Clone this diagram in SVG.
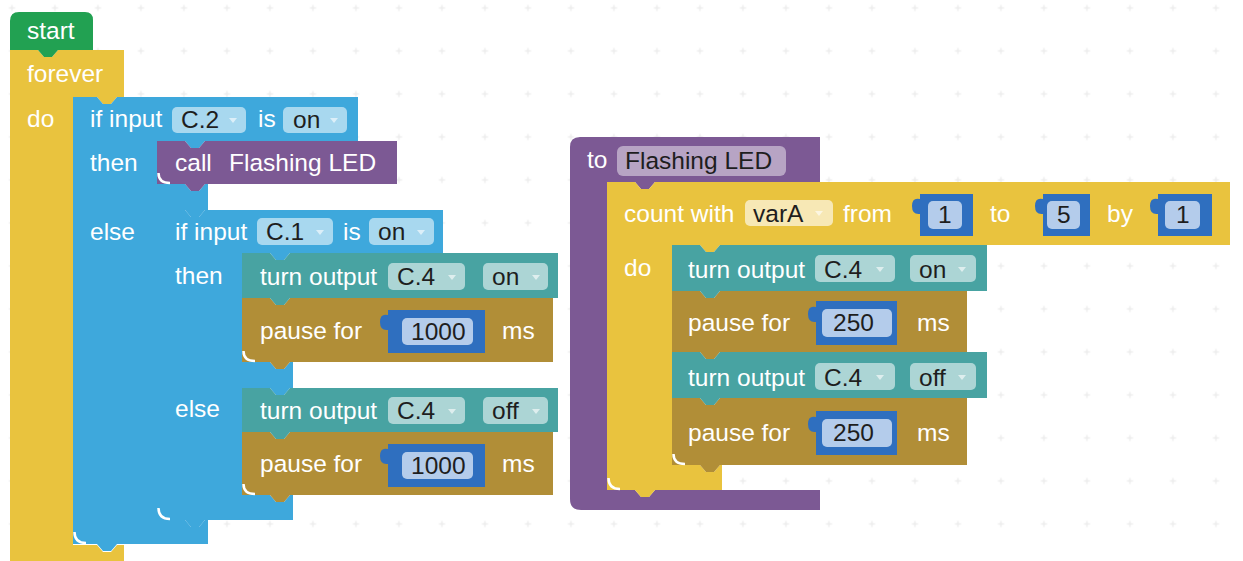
<svg xmlns="http://www.w3.org/2000/svg" width="1243" height="561" viewBox="0 0 1243 561">
<style>
.t{font-family:"Liberation Sans",Arial,sans-serif;font-size:24.5px;fill:#ffffff}
.d{font-family:"Liberation Sans",Arial,sans-serif;font-size:24.5px;fill:#1e1e1e}
.fb{fill:#ffffff;fill-opacity:0.55}
.vf{fill:#b4cceb}
.ar{fill:#ffffff;fill-opacity:0.6}
.hl{fill:none;stroke:#ffffff;stroke-width:2.5}
.green{fill:#22a152}
.yellow{fill:#e9c33e}
.blue{fill:#3ea8dc}
.purple{fill:#7c5994}
.teal{fill:#48a3a2}
.brown{fill:#b18e37}
.val{fill:#2f6fbf}
</style>
<defs>
<pattern id="grid" x="-9.5" y="-13.5" width="43" height="43" patternUnits="userSpaceOnUse">
<rect x="18.5" y="20.8" width="6" height="1.3" fill="#ebebeb"/>
<rect x="20.8" y="18.5" width="1.3" height="6" fill="#ebebeb"/>
</pattern>
</defs>
<rect width="1243" height="561" fill="#ffffff"/>
<rect width="1243" height="561" fill="url(#grid)"/>

<g id="connectors"></g>

<g id="forever">
<path class="yellow" d="M10,50 H38 l6,7 h8 l6,-7 H124 V97 H117 l-6,7 h-8 l-6,-7 H73 V545 H97 l6,7 h8 l6,-7 H124 V561 H10 Z"/>
<text class="t" x="27" y="82">forever</text>
<text class="t" x="27" y="127">do</text>
</g>

<g id="start">
<path class="green" d="M10,21 Q10,12 19,12 H85 Q93,12 93,20 V50 H58 l-6,7 h-8 l-6,-7 H10 Z"/>
<text class="t" x="27" y="39">start</text>
</g>

<g id="if_c2">
<path class="blue" d="M73,97 H97 l6,7 h8 l6,-7 H358 V141 H205 l-6,7 h-8 l-6,-7 H157 V184 H185 l6,7 h8 l6,-7 H208 V210 H205 l-6,7 h-8 l-6,-7 H157 V520 H185 l6,7 h8 l6,-7 H208 V544 H117 l-6,7 h-8 l-6,-7 H73 Z"/>
<text class="t" x="90" y="127">if input</text>
<rect class="fb" x="172" y="107" width="74" height="26" rx="5"/>
<text class="d" x="181" y="128">C.2</text>
<path class="ar" d="M229,118 h8 l-4,5 Z"/>
<text class="t" x="258" y="127">is</text>
<rect class="fb" x="283" y="107" width="64" height="26" rx="5"/>
<text class="d" x="293" y="128">on</text>
<path class="ar" d="M330,118 h8 l-4,5 Z"/>
<text class="t" x="90" y="171">then</text>
<text class="t" x="90" y="240">else</text>
<path class="hl" d="M74.5,532 Q74.5,543 86,543"/>
</g>

<g id="call_flashing">
<path class="purple" d="M157,141 H185 l6,7 h8 l6,-7 H397 V184 H205 l-6,7 h-8 l-6,-7 H157 Z"/>
<text class="t" x="175" y="171">call</text>
<text class="t" x="229" y="171">Flashing LED</text>
<path class="hl" d="M158.5,173 Q158.5,183 170,183"/>
</g>

<g id="if_c1">
<path class="blue" d="M157,210 H185 l6,7 h8 l6,-7 H443 V253 H290 l-6,7 h-8 l-6,-7 H242 V362 H270 l6,7 h8 l6,-7 H293 V388 H290 l-6,7 h-8 l-6,-7 H242 V495 H270 l6,7 h8 l6,-7 H293 V520 H205 l-6,7 h-8 l-6,-7 H157 Z"/>
<text class="t" x="175" y="240">if input</text>
<rect class="fb" x="257" y="218" width="76" height="27" rx="5"/>
<text class="d" x="266" y="240">C.1</text>
<path class="ar" d="M316,230 h8 l-4,5 Z"/>
<text class="t" x="343" y="240">is</text>
<rect class="fb" x="369" y="218" width="65" height="27" rx="5"/>
<text class="d" x="378" y="240">on</text>
<path class="ar" d="M417,230 h8 l-4,5 Z"/>
<text class="t" x="175" y="284">then</text>
<text class="t" x="175" y="417">else</text>
<path class="hl" d="M158.5,508 Q158.5,519 170,519"/>
</g>

<g id="pause_1000_a">
<path class="brown" d="M242,298 H270 l6,7 h8 l6,-7 H553 V362 H290 l-6,7 h-8 l-6,-7 H242 Z"/>
<text class="t" x="260" y="339">pause for</text>
<path class="val" d="M388,310 H485 V353 H388 V330 Q380,331 380,322 Q380,313 388,315 Z"/>
<rect class="vf" x="402" y="318" width="71" height="27" rx="5"/>
<text class="d" x="411" y="340">1000</text>
<text class="t" x="502" y="339">ms</text>
<path class="hl" d="M243.5,351 Q243.5,361 255,361"/>
</g>

<g id="turn_on_a">
<path class="teal" d="M242,253 H270 l6,7 h8 l6,-7 H558 V298 H290 l-6,7 h-8 l-6,-7 H242 Z"/>
<text class="t" x="260" y="285">turn output</text>
<rect class="fb" x="388" y="263" width="77" height="27" rx="5"/>
<text class="d" x="397" y="285">C.4</text>
<path class="ar" d="M448,275 h8 l-4,5 Z"/>
<rect class="fb" x="483" y="263" width="65" height="27" rx="5"/>
<text class="d" x="492" y="285">on</text>
<path class="ar" d="M532,275 h8 l-4,5 Z"/>
</g>

<g id="pause_1000_b">
<path class="brown" d="M242,432 H270 l6,7 h8 l6,-7 H553 V495 H290 l-6,7 h-8 l-6,-7 H242 Z"/>
<text class="t" x="260" y="472">pause for</text>
<path class="val" d="M388,444 H485 V487 H388 V464 Q380,465 380,456 Q380,447 388,449 Z"/>
<rect class="vf" x="402" y="452" width="71" height="27" rx="5"/>
<text class="d" x="411" y="474">1000</text>
<text class="t" x="502" y="472">ms</text>
<path class="hl" d="M243.5,484 Q243.5,494 255,494"/>
</g>

<g id="turn_off_a">
<path class="teal" d="M242,388 H270 l6,7 h8 l6,-7 H558 V432 H290 l-6,7 h-8 l-6,-7 H242 Z"/>
<text class="t" x="260" y="419">turn output</text>
<rect class="fb" x="388" y="397" width="77" height="27" rx="5"/>
<text class="d" x="397" y="419">C.4</text>
<path class="ar" d="M448,409 h8 l-4,5 Z"/>
<rect class="fb" x="483" y="397" width="65" height="27" rx="5"/>
<text class="d" x="492" y="419">off</text>
<path class="ar" d="M532,409 h8 l-4,5 Z"/>
</g>

<g id="to_flashing">
<path class="purple" d="M570,147 Q570,137 580,137 H820 V182 H655 l-6,7 h-8 l-6,-7 H607 V490 H635 l6,7 h8 l6,-7 H820 V510 H581 Q570,510 570,499 Z"/>
<text class="t" x="587" y="168">to</text>
<rect fill="#ffffff" fill-opacity="0.45" x="617" y="146" width="169" height="30" rx="6"/>
<text class="d" x="625" y="169" fill="#2a2a2a">Flashing LED</text>
</g>

<g id="count_with">
<path class="yellow" d="M607,182 H635 l6,7 h8 l6,-7 H1230 V245 H720 l-6,7 h-8 l-6,-7 H672 V465 H700 l6,7 h8 l6,-7 H722 V490 H655 l-6,7 h-8 l-6,-7 H607 Z"/>
<text class="t" x="624" y="222">count with</text>
<rect fill="#ffffff" fill-opacity="0.62" x="745" y="200" width="88" height="26" rx="5"/>
<text class="d" x="753" y="222">varA</text>
<path class="ar" d="M815,211 h8 l-4,5 Z"/>
<text class="t" x="843" y="222">from</text>
<path class="val" d="M920,194 H973 V236 H920 V214 Q912,215 912,206 Q912,197 920,199 Z"/>
<rect class="vf" x="928" y="201" width="34" height="28" rx="5"/>
<text class="d" x="938" y="223">1</text>
<text class="t" x="990" y="222">to</text>
<path class="val" d="M1043,194 H1090 V236 H1043 V214 Q1035,215 1035,206 Q1035,197 1043,199 Z"/>
<rect class="vf" x="1047" y="201" width="33" height="28" rx="5"/>
<text class="d" x="1057" y="223">5</text>
<text class="t" x="1107" y="222">by</text>
<path class="val" d="M1158,194 H1212 V236 H1158 V214 Q1150,215 1150,206 Q1150,197 1158,199 Z"/>
<rect class="vf" x="1165" y="201" width="35" height="28" rx="5"/>
<text class="d" x="1176" y="223">1</text>
<text class="t" x="624" y="276">do</text>
<path class="hl" d="M608.5,478 Q608.5,489 620,489"/>
</g>

<g id="pause_250_a">
<path class="brown" d="M672,291 H700 l6,7 h8 l6,-7 H967 V352 H720 l-6,7 h-8 l-6,-7 H672 Z"/>
<text class="t" x="688" y="331">pause for</text>
<path class="val" d="M816,301 H897 V345 H816 V322 Q808,323 808,314 Q808,305 816,307 Z"/>
<rect class="vf" x="822" y="309" width="70" height="28" rx="5"/>
<text class="d" x="833" y="331">250</text>
<text class="t" x="917" y="331">ms</text>
</g>

<g id="turn_on_b">
<path class="teal" d="M672,245 H700 l6,7 h8 l6,-7 H987 V291 H720 l-6,7 h-8 l-6,-7 H672 Z"/>
<text class="t" x="688" y="278">turn output</text>
<rect class="fb" x="815" y="255" width="80" height="27" rx="5"/>
<text class="d" x="824" y="278">C.4</text>
<path class="ar" d="M876,267 h8 l-4,5 Z"/>
<rect class="fb" x="910" y="255" width="66" height="27" rx="5"/>
<text class="d" x="919" y="278">on</text>
<path class="ar" d="M958,267 h8 l-4,5 Z"/>
</g>

<g id="pause_250_b">
<path class="brown" d="M672,398 H700 l6,7 h8 l6,-7 H967 V465 H720 l-6,7 h-8 l-6,-7 H672 Z"/>
<text class="t" x="688" y="441">pause for</text>
<path class="val" d="M816,411 H897 V455 H816 V432 Q808,433 808,424 Q808,415 816,417 Z"/>
<rect class="vf" x="822" y="419" width="70" height="28" rx="5"/>
<text class="d" x="833" y="441">250</text>
<text class="t" x="917" y="441">ms</text>
<path class="hl" d="M673.5,454 Q673.5,464 685,464"/>
</g>

<g id="turn_off_b">
<path class="teal" d="M672,352 H700 l6,7 h8 l6,-7 H987 V398 H720 l-6,7 h-8 l-6,-7 H672 Z"/>
<text class="t" x="688" y="386">turn output</text>
<rect class="fb" x="815" y="363" width="80" height="27" rx="5"/>
<text class="d" x="824" y="386">C.4</text>
<path class="ar" d="M876,375 h8 l-4,5 Z"/>
<rect class="fb" x="910" y="363" width="66" height="27" rx="5"/>
<text class="d" x="919" y="386">off</text>
<path class="ar" d="M958,375 h8 l-4,5 Z"/>
</g>
</svg>
